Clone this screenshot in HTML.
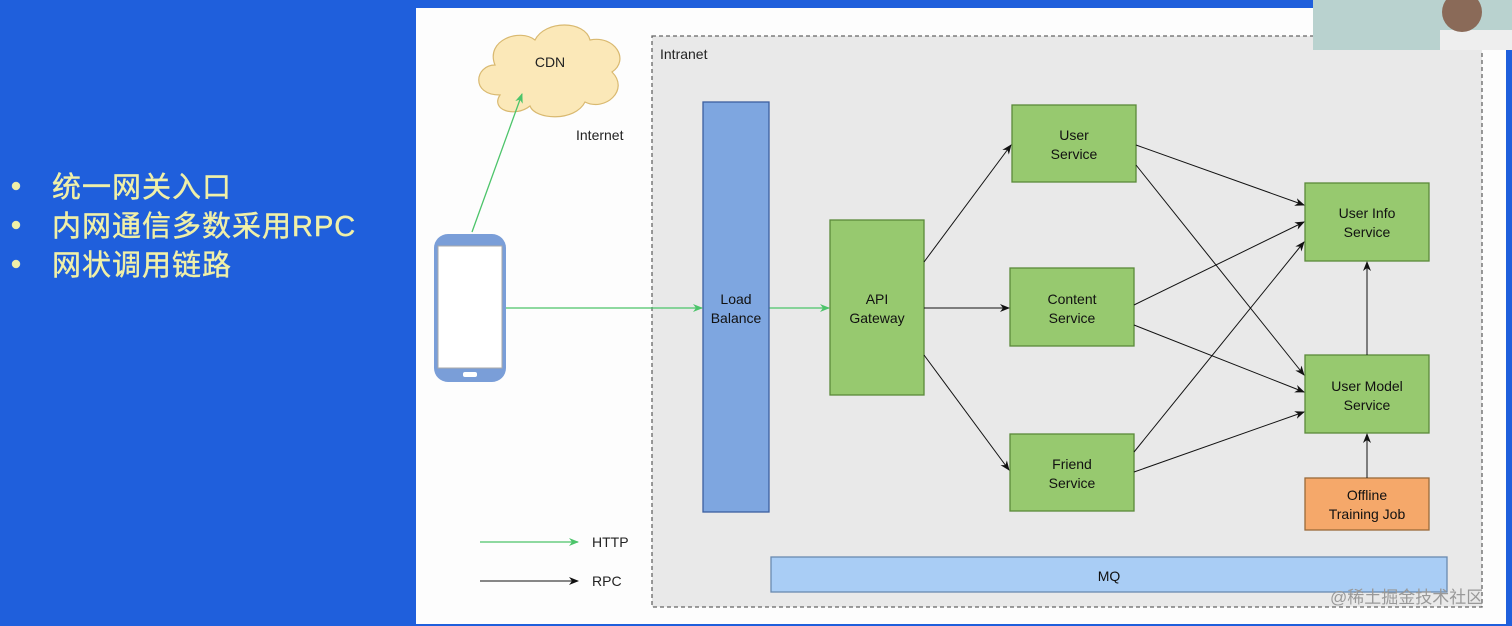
<!DOCTYPE html>
<html><head><meta charset="utf-8"><style>
html,body{margin:0;padding:0;width:1512px;height:626px;overflow:hidden;background:#1f5fdc;}
svg{display:block}
text{font-family:"Liberation Sans",Arial,sans-serif;}
.cn{font-family:"Liberation Sans","Noto Sans CJK SC",sans-serif;}
</style></head><body>
<svg width="1512" height="626" viewBox="0 0 1512 626" xmlns="http://www.w3.org/2000/svg">
<defs>
<marker id="ab" markerWidth="10" markerHeight="8" refX="9" refY="4" orient="auto" markerUnits="userSpaceOnUse"><path d="M0,0 L10,4 L0,8 L3,4 Z" fill="#111"/></marker>
<marker id="ag" markerWidth="10" markerHeight="8" refX="9" refY="4" orient="auto" markerUnits="userSpaceOnUse"><path d="M0,0 L10,4 L0,8 L3,4 Z" fill="#4cc46a"/></marker>
</defs>
<rect x="0" y="0" width="1512" height="626" fill="#1f5fdc"/>
<g class="cn" fill="#f0f0a8" font-size="29" stroke="#f0f0a8" stroke-width="0.4">
<circle cx="16" cy="186" r="4"/><text x="52" y="197" class="cn" letter-spacing="1">统一网关入口</text>
<circle cx="16" cy="225" r="4"/><text x="52" y="236" class="cn" letter-spacing="1">内网通信多数采用RPC</text>
<circle cx="16" cy="264" r="4"/><text x="52" y="275" class="cn" letter-spacing="1">网状调用链路</text>
</g>
<rect x="416" y="8" width="1090" height="616" fill="#fdfdfd"/>
<rect x="652" y="36" width="830" height="571" fill="#e9e9e9" stroke="#666" stroke-dasharray="4,3" stroke-width="1.3"/>
<text x="660" y="59" font-size="14" fill="#222">Intranet</text>
<text x="576" y="140" font-size="14" fill="#222">Internet</text>
<rect x="1313" y="0" width="199" height="50" fill="#b9d2cf"/>
<rect x="1440" y="30" width="72" height="20" fill="#eeeeee"/>
<ellipse cx="1462" cy="12" rx="20" ry="20" fill="#8a6a58"/>
<path d="M500,95 C470,95 475,65 495,65 C485,40 520,28 535,40 C545,20 585,20 590,40 C615,35 630,60 612,72 C630,90 605,112 585,102 C575,122 535,120 530,106 C515,118 490,110 500,95 Z" fill="#fbe8b8" stroke="#d9b970" stroke-width="1.2"/>
<text x="550" y="67" font-size="14" text-anchor="middle" fill="#222">CDN</text>
<rect x="434" y="234" width="72" height="148" rx="14" fill="#7a9ed8"/>
<rect x="438" y="246" width="64" height="122" fill="#fff" stroke="#aaa"/>
<rect x="463" y="372" width="14" height="5" rx="2" fill="#fff"/>
<line x1="472" y1="232" x2="522" y2="94" stroke="#4cc46a" stroke-width="1.3" marker-end="url(#ag)"/>
<line x1="506" y1="308" x2="702" y2="308" stroke="#4cc46a" stroke-width="1.3" marker-end="url(#ag)"/>
<line x1="769" y1="308" x2="829" y2="308" stroke="#4cc46a" stroke-width="1.3" marker-end="url(#ag)"/>
<rect x="703" y="102" width="66" height="410" fill="#7ea6e0" stroke="#3c5fa0" stroke-width="1.3"/>
<text x="736" y="304" font-size="14" text-anchor="middle" fill="#111">Load</text>
<text x="736" y="323" font-size="14" text-anchor="middle" fill="#111">Balance</text>
<g fill="#97c96f" stroke="#5a8a3a" stroke-width="1.3">
<rect x="830" y="220" width="94" height="175"/>
<rect x="1012" y="105" width="124" height="77"/>
<rect x="1010" y="268" width="124" height="78"/>
<rect x="1010" y="434" width="124" height="77"/>
<rect x="1305" y="183" width="124" height="78"/>
<rect x="1305" y="355" width="124" height="78"/>
</g>
<rect x="1305" y="478" width="124" height="52" fill="#f5a86a" stroke="#9a6a3a" stroke-width="1.3"/>
<rect x="771" y="557" width="676" height="35" fill="#a9cdf5" stroke="#6a8ab0" stroke-width="1.3"/>
<g font-size="14" text-anchor="middle" fill="#111">
<text x="877" y="304">API</text><text x="877" y="323">Gateway</text>
<text x="1074" y="140">User</text><text x="1074" y="159">Service</text>
<text x="1072" y="304">Content</text><text x="1072" y="323">Service</text>
<text x="1072" y="469">Friend</text><text x="1072" y="488">Service</text>
<text x="1367" y="218">User Info</text><text x="1367" y="237">Service</text>
<text x="1367" y="391">User Model</text><text x="1367" y="410">Service</text>
<text x="1367" y="500">Offline</text><text x="1367" y="519">Training Job</text>
<text x="1109" y="581">MQ</text>
</g>
<g stroke="#111" stroke-width="1" marker-end="url(#ab)">
<line x1="924" y1="262" x2="1011" y2="145"/>
<line x1="924" y1="308" x2="1009" y2="308"/>
<line x1="924" y1="355" x2="1009" y2="470"/>
<line x1="1136" y1="145" x2="1304" y2="205"/>
<line x1="1136" y1="165" x2="1304" y2="375"/>
<line x1="1134" y1="305" x2="1304" y2="222"/>
<line x1="1134" y1="325" x2="1304" y2="392"/>
<line x1="1134" y1="452" x2="1304" y2="242"/>
<line x1="1134" y1="472" x2="1304" y2="412"/>
<line x1="1367" y1="355" x2="1367" y2="262"/>
<line x1="1367" y1="478" x2="1367" y2="434"/>
</g>
<line x1="480" y1="542" x2="578" y2="542" stroke="#4cc46a" stroke-width="1.3" marker-end="url(#ag)"/>
<text x="592" y="547" font-size="14" fill="#222">HTTP</text>
<line x1="480" y1="581" x2="578" y2="581" stroke="#111" stroke-width="1" marker-end="url(#ab)"/>
<text x="592" y="586" font-size="14" fill="#222">RPC</text>
<text x="1330" y="603" font-size="17" fill="#999" class="cn">@稀土掘金技术社区</text>
</svg>
</body></html>
